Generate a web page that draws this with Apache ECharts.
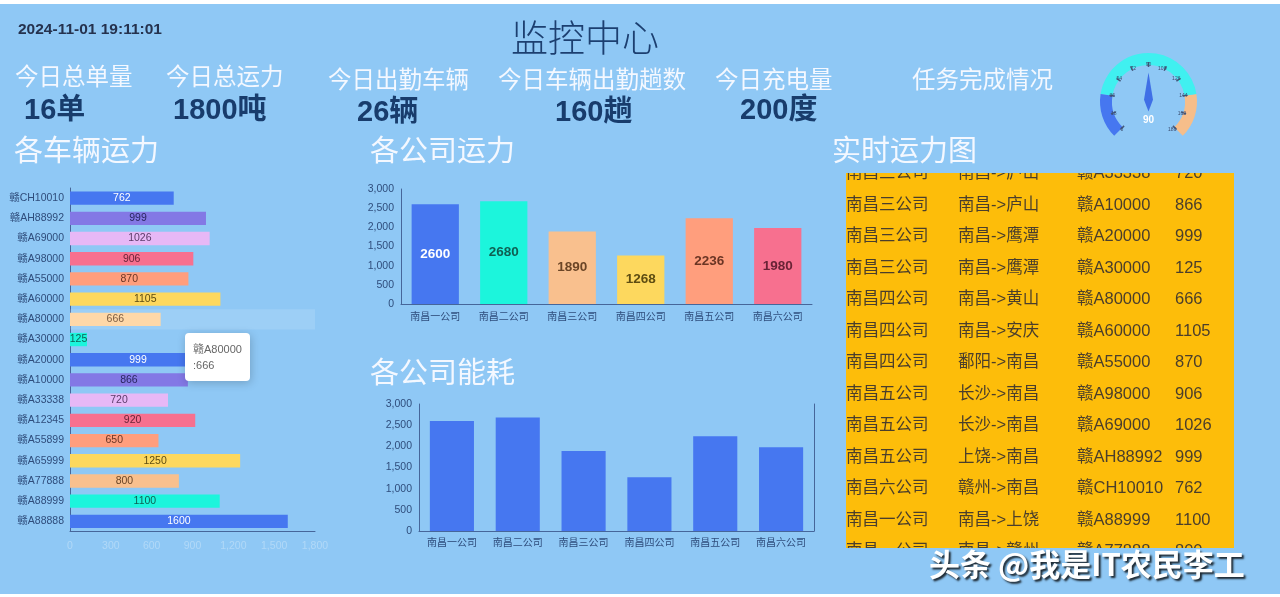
<!DOCTYPE html>
<html><head><meta charset="utf-8">
<script src="https://cdn.jsdelivr.net/npm/echarts@6/dist/echarts.min.js"></script>
<style>html,body{margin:0;padding:0;background:#fff;}#c{width:1280px;height:597px;}</style>
</head><body><div id="c"></div>
<script>
// ---- data ----
const vehicleNames = ['赣A88888','赣A88999','赣A77888','赣A65999','赣A55899','赣A12345','赣A33338','赣A10000','赣A20000','赣A30000','赣A80000','赣A60000','赣A55000','赣A98000','赣A69000','赣AH88992','赣CH10010'];
const vehicleValues = [1600,1100,800,1250,650,920,720,866,999,125,666,1105,870,906,1026,999,762];
const vehicleTicks = [0,300,600,900,1200,1500,1800];
const companyNames = ['南昌一公司','南昌二公司','南昌三公司','南昌四公司','南昌五公司','南昌六公司'];
const companyCapacity = [2600,2680,1890,1268,2236,1980];
const companyEnergy = [2600,2680,1890,1268,2236,1980];
const kpiLabels = ['今日总单量','今日总运力','今日出勤车辆','今日车辆出勤趟数','今日充电量'];
const kpiValues = ['16单','1800吨','26辆','160趟','200度'];
const gaugeValue = 90;
const tableCompany = ['南昌三公司','南昌三公司','南昌三公司','南昌三公司','南昌四公司','南昌四公司','南昌四公司','南昌五公司','南昌五公司','南昌五公司','南昌六公司','南昌一公司','南昌一公司'];
const tableRoute = ['南昌->庐山','南昌->庐山','南昌->鹰潭','南昌->鹰潭','南昌->黄山','南昌->安庆','鄱阳->南昌','长沙->南昌','长沙->南昌','上饶->南昌','赣州->南昌','南昌->上饶','南昌->赣州'];
const tablePlate = ['赣A33338','赣A10000','赣A20000','赣A30000','赣A80000','赣A60000','赣A55000','赣A98000','赣A69000','赣AH88992','赣CH10010','赣A88999','赣A77888'];
const tableValue = ['720','866','999','125','666','1105','870','906','1026','999','762','1100','800'];
const timeText = '2024-11-01 19:11:01';

// ---- styles ----
const BG = '#8fc8f5';
const palette = ['#4677f0','#1cf5dc','#f9c08e','#fdd85e','#ff9e7d','#f7708f','#e7b8f6','#8378e5'];
const labelInk = ['#ffffff','#0f5f52','#6b4526','#5e4d12','#6b3524','#6a2336','#5b3a68','#2a2660'];
const CJK = "'Noto Sans CJK SC', sans-serif";
const LAT = "'Liberation Sans', 'Noto Sans CJK SC', sans-serif";

const chart = echarts.init(document.getElementById('c'));

const g = [];
g.push({type:'rect', z:0, shape:{x:0,y:4,width:1280,height:590}, style:{fill:BG}, silent:true});
function txt(t, x, y, font, fill, extra){
  const o = {type:'text', z:10, x:x, y:y, style:Object.assign({text:t, font:font, fill:fill, textVerticalAlign:'middle', textAlign:'left'}, extra||{}), silent:true};
  g.push(o);
}
txt(timeText, 18, 30, 'bold 15.5px ' + LAT, '#25324e');
txt('监控中心', 585, 38, '300 37px ' + CJK, '#1c3f70', {textAlign:'center'});
const kpiPos = [[15,76,24,109],[166,76,173,109],[328,79,357,111],[498,79,555,111],[715,79,740,109]];
kpiLabels.forEach((l,i)=>{
  txt(l, kpiPos[i][0], kpiPos[i][1], '23.5px ' + CJK, '#f4f8ff');
  txt(kpiValues[i], kpiPos[i][2], kpiPos[i][3] + 2, 'bold 29px ' + LAT, '#183c6c');
});
txt('任务完成情况', 912, 79, '23.5px ' + CJK, '#f4f8ff');
txt('各车辆运力', 14, 150, '29px ' + CJK, '#f4f8ff');
txt('各公司运力', 370, 150, '29px ' + CJK, '#f4f8ff');
txt('各公司能耗', 370, 372, '29px ' + CJK, '#f4f8ff');

// table
g.push({type:'rect', z:5, shape:{x:846,y:173,width:388,height:375}, style:{fill:'#fdbd0a'}, silent:true});
const colX = [846, 958, 1077, 1175];
tableCompany.forEach((c,i)=>{
  const y = 173.5 + 31.5*i;
  const f = '16.5px ' + LAT, col = '#4a3e2c';
  [c, tableRoute[i], tablePlate[i], tableValue[i]].forEach((t,k)=>{
    g.push({type:'text', z:6, x:colX[k], y:y, style:{text:t, font:f, fill:col, textVerticalAlign:'middle'}, silent:true});
  });
});
g.push({type:'rect', z:7, shape:{x:840,y:160,width:400,height:13}, style:{fill:BG}, silent:true});
g.push({type:'rect', z:7, shape:{x:840,y:548,width:400,height:46}, style:{fill:BG}, silent:true});
txt('实时运力图', 832, 150, '29px ' + CJK, '#f4f8ff');
g.push({type:'text', z:12, x:929, y:564, style:{text:'头条 @我是IT农民李工', font:'bold 31px ' + CJK, fill:'#ffffff', textVerticalAlign:'middle', textShadowColor:'rgba(0,0,0,0.8)', textShadowBlur:2, textShadowOffsetX:2, textShadowOffsetY:2}, silent:true});

const axisCol = '#46669a';
const tickCol = '#2f4d7c';

const option = {
  animation: false,
  backgroundColor: 'transparent',
  graphic: {elements: g},
  tooltip: {
    trigger: 'axis',
    axisPointer: {type:'shadow', shadowStyle:{color:'rgba(255,255,255,0.13)'}},
    position: [185, 333],
    backgroundColor: '#fff',
    borderWidth: 0,
    padding: [8, 8],
    transitionDuration: 0,
    textStyle: {fontSize: 11, color: '#666', fontFamily: LAT, lineHeight: 16},
    formatter: function(p){ return p[0].name + '<br/>:' + p[0].value; }
  },
  grid: [
    {left:70, right:1280-315, top:188, bottom:597-531.5},
    {left:401, right:1280-812, top:189, bottom:597-304},
    {left:419, right:1280-814, top:404, bottom:597-531}
  ],
  xAxis: [
    {gridIndex:0, type:'value', min:vehicleTicks[0], max:vehicleTicks[vehicleTicks.length-1], interval:vehicleTicks[1]-vehicleTicks[0],
      splitLine:{show:false}, axisLine:{show:true, lineStyle:{color:axisCol}}, axisTick:{show:false},
      axisLabel:{color:'rgba(255,255,255,0.3)', fontSize:10.5, margin:9, fontFamily:LAT}},
    {gridIndex:1, type:'category', data:companyNames, axisLine:{lineStyle:{color:axisCol}}, axisTick:{show:false},
      axisLabel:{color:tickCol, fontSize:10, margin:7, fontFamily:CJK}},
    {gridIndex:2, type:'category', data:companyNames, axisLine:{lineStyle:{color:axisCol}}, axisTick:{show:false},
      axisLabel:{color:tickCol, fontSize:10, margin:6, fontFamily:CJK}}
  ],
  yAxis: [
    {gridIndex:0, type:'category', data:vehicleNames, axisLine:{lineStyle:{color:axisCol}}, axisTick:{show:false},
      axisLabel:{color:tickCol, fontSize:10.5, margin:6, fontFamily:LAT}},
    {gridIndex:1, type:'value', min:0, max:3000, interval:500, splitLine:{show:false},
      axisLine:{show:true, lineStyle:{color:axisCol}}, axisTick:{show:false},
      axisLabel:{color:tickCol, fontSize:10.5, margin:7, fontFamily:LAT}},
    {gridIndex:2, type:'value', min:0, max:3000, interval:500, splitLine:{show:false},
      axisLine:{show:true, lineStyle:{color:axisCol}}, axisTick:{show:false},
      axisLabel:{color:tickCol, fontSize:10.5, margin:7, fontFamily:LAT}},
    {gridIndex:2, type:'value', position:'right', min:0, max:3000, interval:500, splitLine:{show:false},
      axisLine:{show:true, lineStyle:{color:axisCol}}, axisTick:{show:false}, axisLabel:{show:false}}
  ],
  series: [
    {type:'bar', xAxisIndex:0, yAxisIndex:0, barCategoryGap:'34%',
      data: vehicleValues.map((v,i)=>({value:v, itemStyle:{color:palette[i%8]}, label:{color:labelInk[i%8]}})),
      label:{show:true, position:'inside', fontSize:10.5, fontFamily:LAT}},
    {type:'bar', xAxisIndex:1, yAxisIndex:1, barCategoryGap:'31%',
      data: companyCapacity.map((v,i)=>({value:v, itemStyle:{color:palette[i%8]}, label:{color:labelInk[i%8]}})),
      label:{show:true, position:'inside', fontSize:13.5, fontWeight:'bold', fontFamily:LAT}},
    {type:'bar', xAxisIndex:2, yAxisIndex:2, barCategoryGap:'33%', itemStyle:{color:palette[0]},
      data: companyEnergy},
    {type:'gauge', center:[1148.5,101.5], radius:48.5, min:0, max:180, splitNumber:10, startAngle:225, endAngle:-45,
      axisLine:{lineStyle:{width:12, color:[[0.2,'#4677f0'],[0.8,'#40f0f0'],[1,'#f6be8a']]}},
      axisTick:{show:false},
      splitLine:{length:5, distance:-3, lineStyle:{color:'#44577a', width:1.5}},
      axisLabel:{fontSize:5, distance:7, color:'#3a4c70'},
      pointer:{icon:'path://M5 0 L10 28 L5 40 L0 28 Z', length:39, width:9, offsetCenter:[0,10], itemStyle:{color:'#3f6fe6'}},
      anchor:{show:false}, title:{show:false},
      detail:{offsetCenter:[0,19], fontSize:10, fontWeight:'bold', color:'#ffffff', fontFamily:LAT},
      data:[{value:gaugeValue}]}
  ]
};
chart.setOption(option);
chart.dispatchAction({type:'showTip', seriesIndex:0, dataIndex:vehicleNames.indexOf('赣A80000')});
</script></body></html>
